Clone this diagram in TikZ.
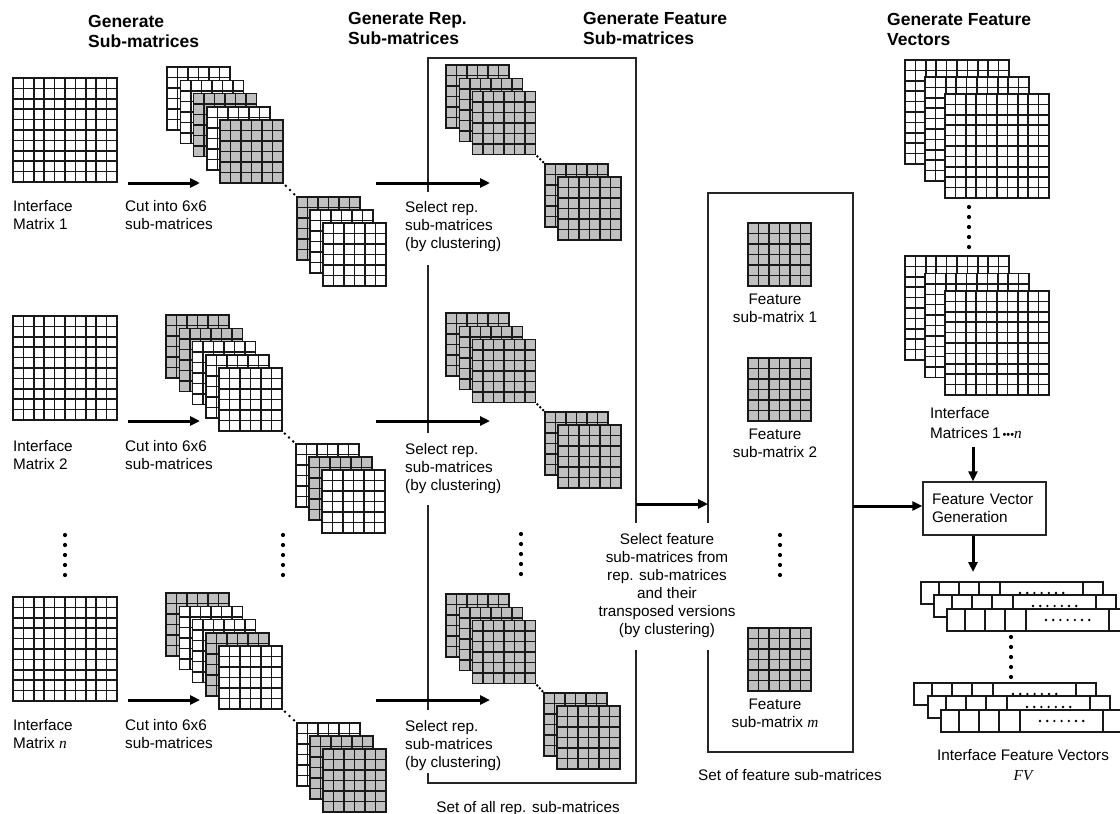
\documentclass[tikz,border=0pt]{standalone}
\usepackage{fontspec}
\setmainfont{Liberation Sans}
\newfontfamily\tms{Liberation Serif}
\usetikzlibrary{arrows.meta}
\definecolor{cg}{RGB}{192,192,192}
\tikzset{
  gl/.style={line width=1.5pt, draw=black!90},
  bx/.style={line width=1.3pt, draw=black!85},
  arr/.style={line width=3pt, -{Triangle[length=10pt,width=9pt]}},
  lbl/.style={font=\fontsize{15.3}{18}\selectfont, inner sep=0pt, anchor=north west, align=left},
  clbl/.style={font=\fontsize{15.3}{18}\selectfont, inner sep=0pt, anchor=north, align=center},
  ttl/.style={font=\fontsize{17.5}{20}\bfseries\selectfont, inner sep=0pt, anchor=north west, align=left},
}
\newcommand\sixm[3]{%
  \filldraw[gl,fill=#3] ({#1},{#2}) rectangle ++(63,63);
  \foreach \k in {1,...,5}{%
    \draw[gl] ({#1+\k*10.5},{#2}) -- ++(0,63);
    \draw[gl] ({#1},{#2+\k*10.5}) -- ++(63,0);
  }}
\newcommand\tenm[2]{%
  \filldraw[gl,fill=white] ({#1},{#2}) rectangle ++(104,104);
  \foreach \k in {1,...,9}{%
    \draw[gl] ({#1+\k*10.4},{#2}) -- ++(0,104);
    \draw[gl] ({#1},{#2+\k*10.4}) -- ++(104,0);
  }}
\newcommand\vfive[2]{\foreach \k in {0,...,4} \fill ({#1},{#2+\k*10}) circle (2.1pt);}
\newcommand\diagdots[4]{\foreach \t in {0.2,0.5,0.8} \fill ({(#1)+\t*((#3)-(#1))},{(#2)+\t*((#4)-(#2))}) circle (1.4pt);}
\newcommand\fvbar[2]{%
  \filldraw[gl,fill=white] ({#1},{#2}) rectangle ++(182,22);
  \foreach \k in {18,38,58,79,162} \draw[gl] ({#1+\k},{#2}) -- ++(0,22);
  \foreach \k in {0,...,6} \fill ({#1+99+\k*7.2},{#2+11}) circle (1.3pt);}
\begin{document}
\begin{tikzpicture}[x=1pt,y=-1pt]
\clip (0,0) rectangle (1120,814);
\fill[white] (0,0) rectangle (1120,814);

% titles
\node[ttl] (t1) at (88,15) {Generate\\Sub-matrices};
\node[ttl] (t2) at (348,12) {Generate Rep.\\Sub-matrices};
\node[ttl] (t3) at (583,12) {Generate Feature\\Sub-matrices};
\node[ttl] (t4) at (887,13) {Generate Feature\\Vectors};

% interface matrices
\tenm{13}{78}
\tenm{13}{316}
\tenm{13}{597}
\node[lbl] (im1) at (13,200) {Interface\\Matrix 1};
\node[lbl] (im2) at (13,440) {Interface\\Matrix 2};
\node[lbl] (im3) at (13,719) {Interface\\Matrix {\tms\itshape n}};
\vfive{65}{535}

% cut arrows
\coordinate (a1s) at (128,183); \coordinate (a1e) at (200,183);
\coordinate (a2s) at (128,421); \coordinate (a2e) at (200,421);
\coordinate (a3s) at (128,700); \coordinate (a3e) at (200,700);
\draw[arr] (a1s) -- (a1e);
\draw[arr] (a2s) -- (a2e);
\draw[arr] (a3s) -- (a3e);
\node[lbl] (c1) at (125,200) {Cut into 6x6\\sub-matrices};
\node[lbl] (c2) at (125,440) {Cut into 6x6\\sub-matrices};
\node[lbl] (c3) at (125,719) {Cut into 6x6\\sub-matrices};

% sub-matrix stacks
\foreach \c [count=\i from 0] in {white,white,cg,white,cg} {\sixm{167+\i*13.25}{67+\i*13.25}{\c}}
\diagdots{283}{183}{297}{197}
\foreach \c [count=\i from 0] in {cg,white,white} {\sixm{297+\i*13}{197+\i*13}{\c}}

\foreach \c [count=\i from 0] in {cg,cg,white,white,white} {\sixm{166+\i*13.25}{315+\i*13.25}{\c}}
\diagdots{282}{431}{296}{444}
\foreach \c [count=\i from 0] in {white,cg,white} {\sixm{296+\i*13}{444+\i*13}{\c}}

\foreach \c [count=\i from 0] in {cg,white,white,cg,white} {\sixm{166+\i*13.25}{593+\i*13.25}{\c}}
\diagdots{282}{709}{297}{723}
\foreach \c [count=\i from 0] in {white,cg,cg} {\sixm{297+\i*13}{723+\i*13}{\c}}
\vfive{283}{535}

% select rep arrows
\coordinate (b1s) at (376,183); \coordinate (b1e) at (490,183);
\coordinate (b2s) at (376,421); \coordinate (b2e) at (490,421);
\coordinate (b3s) at (376,700); \coordinate (b3e) at (490,700);
\node[lbl] (s1) at (405,201) {Select rep.\\sub-matrices\\(by clustering)};
\node[lbl] (s2) at (405,443) {Select rep.\\sub-matrices\\(by clustering)};
\node[lbl] (s3) at (405,720) {Select rep.\\sub-matrices\\(by clustering)};

% rep box
\draw[bx] (428,192) -- (428,58) -- (636,58) -- (636,523);
\draw[bx] (636,650) -- (636,783) -- (428,783) -- (428,773);
\draw[bx] (428,265) -- (428,433);
\draw[bx] (428,505) -- (428,710);
\draw[arr] (b1s) -- (b1e);
\draw[arr] (b2s) -- (b2e);
\draw[arr] (b3s) -- (b3e);
\node[clbl] (setrep) at (528,801) {Set of all rep. sub-matrices};

% rep stacks
\foreach \y/\z/\xx in {65/164/545, 313/412/545, 594/693/544} {
  \foreach \i in {0,1,2} {\sixm{446+\i*13.25}{\y+\i*13.25}{cg}}
  \diagdots{535.5}{\y+89.5}{\xx}{\z}
  \foreach \i in {0,1} {\sixm{\xx+\i*13}{\z+\i*13}{cg}}
}
\vfive{521}{534}

% feature box
\coordinate (cs) at (636,504); \coordinate (ce) at (708,504);
\draw[bx] (708,523) -- (708,193) -- (853,193) -- (853,752) -- (708,752) -- (708,650);
\draw[arr] (cs) -- (ce);
\node[clbl] (selfeat) at (667,533) {Select feature\\sub-matrices from\\rep. sub-matrices\\and their\\transposed versions\\(by clustering)};
\sixm{748}{223}{cg}
\sixm{748}{358}{cg}
\sixm{748}{628}{cg}
\node[clbl] (f1) at (775,294) {Feature\\sub-matrix 1};
\node[clbl] (f2) at (775,429) {Feature\\sub-matrix 2};
\node[clbl] (f3) at (775,699) {Feature\\sub-matrix {\tms\itshape m}};
\vfive{780}{535}
\node[clbl] (setfeat) at (790,769) {Set of feature sub-matrices};

% right column
\tenm{905}{60}
\tenm{925}{77}
\tenm{945}{94}
\vfive{969}{207}
\tenm{905}{256}
\tenm{925}{273.5}
\tenm{945}{291}
\node[lbl, font=\fontsize{15.3}{20}\selectfont] (ims) at (930,407) {Interface\\Matrices 1{\fontsize{11}{11}\selectfont\,•••}{\tms\itshape n}};

\node[draw, line width=1.3pt, draw=black!85, minimum width=123pt, minimum height=53pt,
      inner xsep=9pt, inner ysep=0pt, text width=105pt, align=left,
      font=\fontsize{15.3}{17.5}\selectfont] (fvg) at (984.5,508.5) {Feature Vector\\Generation};
\coordinate (d0) at (853,506);
\draw[arr] (d0) -- (d0 -| fvg.west);
\coordinate (e0) at (973,447);
\draw[arr] (e0) -- (e0 |- fvg.north);
\coordinate (f0) at (973,572);
\draw[arr] (f0 |- fvg.south) -- (f0);

% feature vectors
\fvbar{921}{582}\fvbar{934}{595}\fvbar{947}{609}
\vfive{1011}{637}
\fvbar{914}{683}\fvbar{928}{696}\fvbar{941}{710}
\node[clbl, font=\fontsize{15.3}{20}\selectfont] (fvl) at (1023,749) {Interface Feature Vectors\\{\tms\itshape FV}};
\end{tikzpicture}
\end{document}
